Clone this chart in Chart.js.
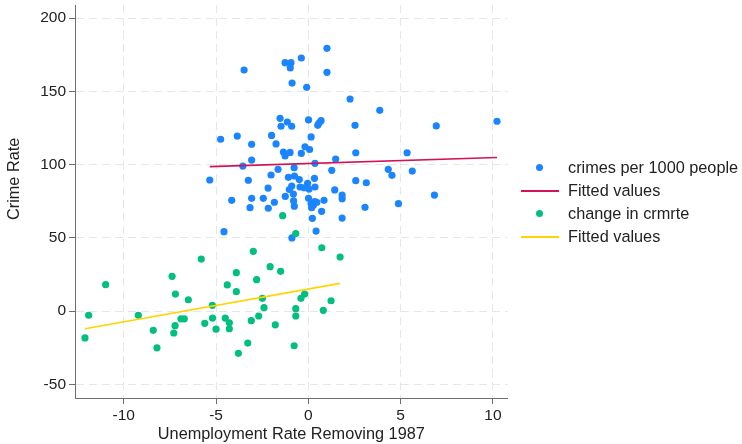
<!DOCTYPE html>
<html>
<head>
<meta charset="utf-8">
<script src="https://cdn.jsdelivr.net/npm/chart.js@4"></script>
<style>
    body { margin: 0; background: #fff; }
    #wrap { position: relative; width: 742px; height: 444px; font-family: "Liberation Sans", Arial, sans-serif; }
    .legend { position: absolute; left: 515px; top: 156px; }
    .row { position: relative; height: 23px; line-height: 23px; font-size: 16.3px; color: #222; white-space: nowrap; }
    .row span.txt { position: absolute; left: 53px; top: 0; }
    .dot { position: absolute; left: 21px; top: 8px; width: 7px; height: 7px; border-radius: 50%; }
    .ln { position: absolute; left: 6px; top: 11px; width: 38px; height: 1.6px; }
</style>
</head>
<body>
<div id="wrap">
    <canvas id="crimeChart" width="742" height="444"></canvas>
    <div class="legend" id="legend"></div>
</div>
<script>
// unemployment change (x) vs crime rate (y)
const crimeX = [1.01,-3.48,-1.26,-0.94,-0.98,-0.38,1.01,-0.88,-0.09,2.26,
    -1.53,-1.14,-1.48,-0.90,0.01,0.69,0.58,0.51,2.53,-4.75,
    -3.85,-1.99,0.15,3.87,6.93,10.22,-3.07,-1.75,-1.35,-0.99,
    -1.26,-0.38,-0.18,0.07,1.48,2.57,-3.07,-3.55,-0.77,0.36,
    1.27,-5.34,-3.25,-2.02,-1.64,-1.08,-0.75,-0.49,0.33,2.57,
    -2.18,-0.90,-1.03,-0.45,-0.04,-0.23,0.04,0.36,1.43,1.83,
    1.83,-0.81,-1.25,-4.15,-3.07,-2.44,-1.84,-0.80,0.01,0.35,
    0.15,0.28,0.46,0.85,0.18,-0.76,-3.16,-2.17,0.72,0.22,
    1.83,-4.57,0.42,-0.89,5.35,4.33,4.53,5.63,3.14,3.07,4.88,6.83];
const crimeY = [179.4,164.6,169.6,169.6,166.0,172.8,163.0,155.7,152.8,144.8,
    131.6,129.1,126.2,126.2,130.5,130.0,128.4,126.8,126.8,117.3,
    119.5,119.9,118.9,137.1,126.4,129.6,113.9,114.1,108.6,108.3,
    105.9,107.6,112.2,110.3,103.8,108.1,103.1,99.0,97.9,100.9,
    96.1,89.5,89.3,92.9,96.8,91.3,92.2,89.8,90.6,89.0,
    84.0,85.4,83.0,84.7,87.2,84.2,83.3,84.7,82.7,79.2,
    76.7,79.9,78.3,75.6,77.0,77.0,74.3,75.3,77.0,74.8,
    73.4,72.4,74.3,75.6,70.6,71.6,70.6,70.2,68.1,63.3,
    63.5,54.2,54.6,49.9,108.1,96.8,92.7,95.6,87.6,70.8,73.3,79.2];

const changeX = [-12.10,-11.90,-10.98,-9.21,-8.40,-8.20,-7.38,-7.20,-7.22,-7.29,
    -6.90,-6.72,-6.50,-5.80,-5.61,-5.20,-5.19,-5.00,-4.50,-4.39,
    -4.28,-4.28,-3.90,-3.90,-3.79,-3.28,-3.09,-2.98,-2.80,-2.49,
    -2.40,-2.69,-2.07,-1.79,-1.50,-1.39,-0.77,-0.68,-0.68,-0.68,
    -0.40,-0.20,0.73,0.81,1.23,1.72];
const changeY = [-18.4,-2.9,18.0,-2.9,-13.2,-25.1,23.7,11.6,-10.0,-15.0,
    -5.3,-5.3,7.7,35.5,-8.4,3.9,-4.8,-12.4,-4.8,17.8,
    -8.0,-12.1,26.2,13.2,-28.9,-21.9,-6.6,40.8,21.4,8.7,
    2.3,-3.4,30.3,-9.4,27.1,65.1,-23.7,52.9,1.6,-3.4,
    8.7,11.6,43.2,0.5,7.0,36.9];

// fitted line endpoints
const fitCrimeX = [-5.34, 10.22];
const fitCrimeY = [98.6, 104.8];
const fitChangeX = [-12.10, 1.72];
const fitChangeY = [-12.1, 18.9];

const xTicks = [-10, -5, 0, 5, 10];
const yTicks = [-50, 0, 50, 100, 150, 200];

const labels = ['crimes per 1000 people', 'Fitted values', 'change in crmrte', 'Fitted values'];
const colors = ['#1a85ff', '#d41159', '#00bf7f', '#ffd400'];

const toPoints = (xs, ys) => xs.map((x, i) => ({ x: x, y: ys[i] }));

const font = { family: '"Liberation Sans", Arial, sans-serif', size: 15.5 };
const titleFont = { family: '"Liberation Sans", Arial, sans-serif', size: 16.3 };

const axisStyle = {
    border: { color: '#6e6e6e', width: 1, dash: [8, 5] },
    grid: { color: '#e6e6e6', lineWidth: 1, tickColor: '#6e6e6e', tickLength: 6, tickBorderDash: [] }
};

new Chart(document.getElementById('crimeChart').getContext('2d'), {
    type: 'scatter',
    data: {
        datasets: [
            { label: labels[0], data: toPoints(crimeX, crimeY), backgroundColor: colors[0], borderWidth: 0, pointRadius: 3.6, order: 4 },
            { label: labels[1], type: 'line', data: toPoints(fitCrimeX, fitCrimeY), borderColor: colors[1], borderWidth: 1.6, pointRadius: 0, fill: false, order: 3 },
            { label: labels[2], data: toPoints(changeX, changeY), backgroundColor: colors[2], borderWidth: 0, pointRadius: 3.6, order: 2 },
            { label: labels[3], type: 'line', data: toPoints(fitChangeX, fitChangeY), borderColor: colors[3], borderWidth: 1.6, pointRadius: 0, fill: false, order: 1 }
        ]
    },
    options: {
        responsive: false,
        animation: false,
        layout: { padding: { left: 0, right: 234.3, top: 5, bottom: 0 } },
        plugins: { legend: { display: false }, tooltip: { enabled: false } },
        scales: {
            x: {
                type: 'linear',
                min: -12.64,
                max: 10.8,
                border: axisStyle.border,
                grid: axisStyle.grid,
                afterBuildTicks: s => { s.ticks = xTicks.map(v => ({ value: v })); },
                afterFit: s => { s.height = 46; s.paddingLeft = 0; s.paddingRight = 0; },
                ticks: { font: font, color: '#222', padding: 2 },
                title: { display: true, text: 'Unemployment Rate Removing 1987', font: titleFont, color: '#222', padding: { top: 0, bottom: 0 } }
            },
            y: {
                type: 'linear',
                min: -59.4,
                max: 209,
                border: axisStyle.border,
                grid: axisStyle.grid,
                afterBuildTicks: s => { s.ticks = yTicks.map(v => ({ value: v })); },
                afterFit: s => { s.width = 75; s.paddingTop = 0; s.paddingBottom = 0; },
                ticks: { font: font, color: '#222', padding: 3 },
                title: { display: true, text: '\u00a0'.repeat(10) + 'Crime Rate', font: titleFont, color: '#222', padding: { top: 5, bottom: 0 } }
            }
        }
    }
});

// legend drawn as html next to the plot
const legend = document.getElementById('legend');
labels.forEach((label, i) => {
    const row = document.createElement('div');
    row.className = 'row';
    const mark = document.createElement('span');
    mark.className = i % 2 === 0 ? 'dot' : 'ln';
    mark.style.background = colors[i];
    const txt = document.createElement('span');
    txt.className = 'txt';
    txt.textContent = label;
    row.appendChild(mark);
    row.appendChild(txt);
    legend.appendChild(row);
});
</script>
</body>
</html>
